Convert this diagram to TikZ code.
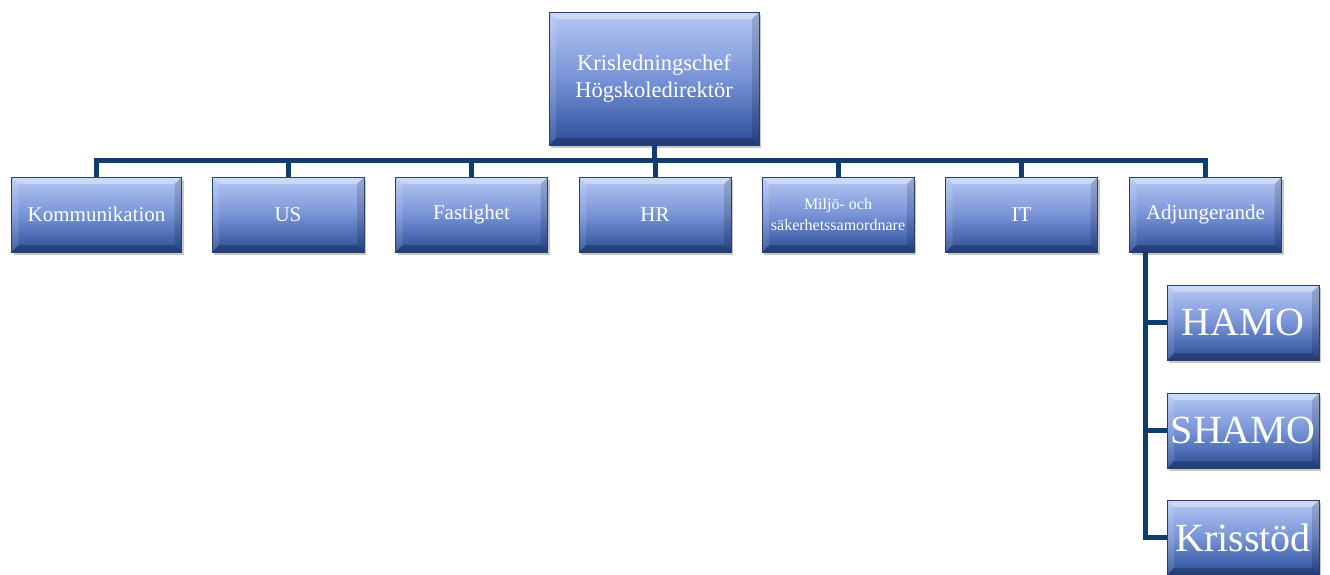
\documentclass[tikz,border=0pt]{standalone}
\usepackage{fontspec}
\setmainfont{Liberation Serif}
\usetikzlibrary{shadows}
\definecolor{lineblue}{HTML}{0E3D6F}
\definecolor{btop}{HTML}{B5C8F4}
\definecolor{bmid}{HTML}{7893D6}
\definecolor{bbot}{HTML}{2A4C97}
\definecolor{bedge}{HTML}{27406F}
\tikzset{
  box/.style={draw=bedge, line width=0.6pt, top color=btop, bottom color=bbot, middle color=bmid,
    text=white, align=center, inner sep=0pt, minimum width=152pt, minimum height=75pt,
    font=\fontsize{21}{24}\selectfont,
    drop shadow={shadow xshift=2pt, shadow yshift=-3pt, opacity=0.3, fill=black!70},
    path picture={
      \fill[white,opacity=0.35] (path picture bounding box.north west) -- (path picture bounding box.north east)
        -- ([xshift=-7pt,yshift=-7pt]path picture bounding box.north east) -- ([xshift=7pt,yshift=-7pt]path picture bounding box.north west) -- cycle;
      \fill[white,opacity=0.12] (path picture bounding box.north west) -- ([xshift=7pt,yshift=-7pt]path picture bounding box.north west)
        -- ([xshift=7pt,yshift=7pt]path picture bounding box.south west) -- (path picture bounding box.south west) -- cycle;
      \fill[black,opacity=0.15] (path picture bounding box.north east) -- ([xshift=-7pt,yshift=-7pt]path picture bounding box.north east)
        -- ([xshift=-7pt,yshift=7pt]path picture bounding box.south east) -- (path picture bounding box.south east) -- cycle;
      \fill[black,opacity=0.22] (path picture bounding box.south west) -- (path picture bounding box.south east)
        -- ([xshift=-7pt,yshift=7pt]path picture bounding box.south east) -- ([xshift=7pt,yshift=7pt]path picture bounding box.south west) -- cycle;
    }},
  bigtext/.style={font=\fontsize{40}{44}\selectfont},
  conn/.style={draw=lineblue, line width=5pt}
}
\begin{document}
\begin{tikzpicture}[x=1pt,y=-1pt]
\useasboundingbox (0,0) rectangle (1330,574);
\fill[white] (0,0) rectangle (1330,574);
% top
\node[box, minimum width=210pt, minimum height=133pt, font=\fontsize{22.5}{27}\selectfont] (top) at (654,78.5) {Krisledningschef\\Högskoledirektör};
% row
\node[box, minimum width=170pt] (n1) at (96.5,214.5) {Kommunikation};
\node[box] (n2) at (288,214.5) {US};
\node[box] (n3) at (471.5,214.5) {Fastighet};
\node[box] (n4) at (655,214.5) {HR};
\node[box, font=\fontsize{16}{21}\selectfont] (n5) at (838,214.5) {Miljö- och\\säkerhetssamordnare};
\node[box] (n6) at (1021.5,214.5) {IT};
\node[box] (n7) at (1205.5,214.5) {Adjungerande};
% sub
\node[box, bigtext] (hamo) at (1243,322.5) {HAMO};
\node[box, bigtext] (shamo) at (1243,430.5) {SHAMO};
\node[box, bigtext] (kris) at (1243,537.5) {Krisstöd};
% connectors
\coordinate (bus) at (0,160);
\coordinate (spine) at (1145,0);
\draw[conn] (top.south) -- (top.south |- bus);
\draw[conn] (n1.north) -- (n1.north |- bus) -- (n7.north |- bus) -- (n7.north);
\foreach \n in {n2,n3,n4,n5,n6} \draw[conn] (\n.north |- bus) -- (\n.north);
\draw[conn] (n7.south -| spine) |- (kris.west);
\draw[conn] (spine |- hamo.west) -- (hamo.west);
\draw[conn] (spine |- shamo.west) -- (shamo.west);
\end{tikzpicture}
\end{document}
